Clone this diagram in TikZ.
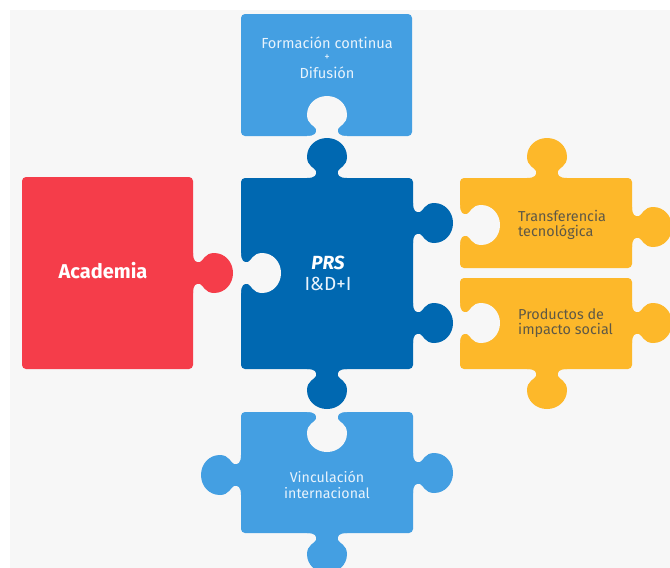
\documentclass[tikz,border=0pt]{standalone}
\usepackage{fontspec}
\setmainfont{Fira Sans}
\definecolor{bggray}{HTML}{F7F7F7}
\definecolor{lblue}{HTML}{449FE2}
\definecolor{dblue}{HTML}{0068B1}
\definecolor{pred}{HTML}{F53D4A}
\definecolor{pyellow}{HTML}{FDB82A}
\definecolor{ytext}{HTML}{5E5846}
\definecolor{ltext}{HTML}{E8F3FC}
\tikzset{
  jtab/.pic={\fill[pic actions] (-20,-1) -- (-20,0) .. controls (-12,0) and (-10,3) .. (-11,7)
     .. controls (-12,10) and (-20,12) .. (-20,21) .. controls (-20,32) and (-11,40) .. (0,40)
     .. controls (11,40) and (20,32) .. (20,21) .. controls (20,12) and (12,10) .. (11,7)
     .. controls (10,3) and (12,0) .. (20,0) -- (20,-1) -- cycle;},
  piecebox/.style={rounded corners=4pt},
  ltxt/.style={text=ltext, font=\fontsize{14.6}{16}\selectfont, align=center, inner sep=0pt},
  ytxt/.style={text=ytext, font=\fontsize{14.4}{16}\selectfont, align=left, anchor=west, inner sep=0pt}
}
\begin{document}
\begin{tikzpicture}[x=1pt,y=-1pt]
\useasboundingbox (0,0) rectangle (670,568);
\fill[white] (0,0) rectangle (670,568);
\fill[bggray] (10,10) rectangle (670,568);
% top piece
\fill[lblue, piecebox] (241,14) rectangle (412,136);
\pic[rotate=180, fill=bggray] at (327,136) {jtab};
% center piece
\fill[dblue, piecebox] (241,178) rectangle (413,369);
\pic[rotate=90, fill=bggray] at (241,273) {jtab};
\pic[rotate=180, fill=dblue] at (327,178) {jtab};
\pic[rotate=0, fill=dblue] at (327,369) {jtab};
\pic[rotate=90, fill=dblue] at (413,223) {jtab};
\pic[rotate=90, fill=dblue] at (413,323) {jtab};
% red piece
\fill[pred, piecebox] (22,177) rectangle (193,369);
\pic[rotate=90, fill=pred] at (193,273) {jtab};
% yellow 1
\fill[pyellow, piecebox] (460,178) rectangle (632,268);
\pic[rotate=90, fill=bggray] at (460,225) {jtab};
\pic[rotate=180, fill=pyellow] at (547,178) {jtab};
\pic[rotate=90, fill=pyellow] at (632,227) {jtab};
% yellow 2
\fill[pyellow, piecebox] (460,278) rectangle (632,369);
\pic[rotate=90, fill=bggray] at (460,323) {jtab};
\pic[rotate=90, fill=pyellow] at (632,323) {jtab};
\pic[rotate=0, fill=pyellow] at (547,369) {jtab};
% bottom piece
\fill[lblue, piecebox] (241,412) rectangle (413,533);
\pic[rotate=0, fill=bggray] at (327,412) {jtab};
\pic[rotate=-90, fill=lblue] at (241,475) {jtab};
\pic[rotate=90, fill=lblue] at (413,473) {jtab};
\pic[rotate=0, fill=lblue] at (327,533) {jtab};
% texts
\node[ltxt] (t1) at (327,43) {Formación continua};
\node[ltxt, font=\fontsize{11}{12}\selectfont] (t2) at (327,58) {+};
\node[ltxt] (t3) at (327,73) {Difusión};
\node[text=white, font=\fontsize{20}{22}\selectfont\bfseries, inner sep=0pt] (aca) at (103,271) {Academia};
\node[text=white, font=\fontsize{19}{22}\selectfont\bfseries\itshape, inner sep=0pt] (prs) at (328,263) {PRS};
\node[text=ltext, font=\fontsize{19}{22}\selectfont, inner sep=0pt] (idi) at (328,284) {I\&D+I};
\node[ytxt] (tr1) at (518,216) {Transferencia};
\node[ytxt] (tr2) at (518,232) {tecnológica};
\node[ytxt] (pr1) at (518,314) {Productos de};
\node[ytxt] (pr2) at (518,330) {impacto social};
\node[ltxt, font=\fontsize{14.2}{16}\selectfont] (v1) at (327,477) {Vinculación};
\node[ltxt, font=\fontsize{14.2}{16}\selectfont] (v2) at (327,493) {internacional};
\end{tikzpicture}
\end{document}
